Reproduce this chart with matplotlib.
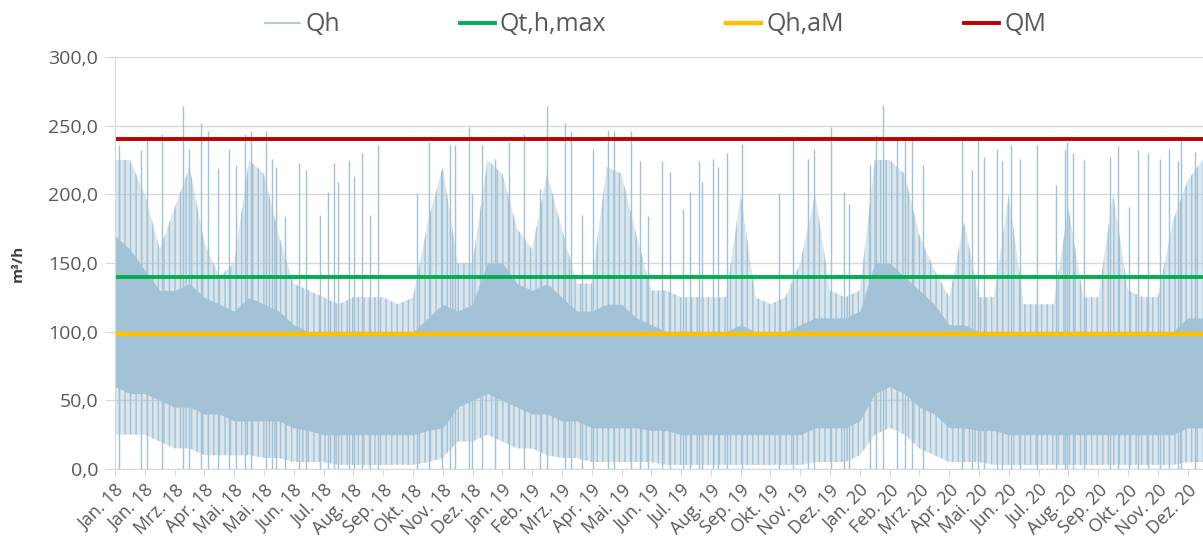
import numpy as np
import matplotlib
matplotlib.use('Agg')
import matplotlib.pyplot as plt
from matplotlib.ticker import FuncFormatter

plt.rcParams['font.family'] = ['Open Sans', 'DejaVu Sans']
plt.rcParams['hatch.linewidth'] = 1.0

# days since 01.01.2018, read every 15 days from the picture
days = [0, 15, 30, 45, 60, 75, 90, 105, 120, 135, 150, 165, 180, 195, 210, 225,
        240, 255, 270, 285, 300, 315, 330, 345, 360, 375, 390, 405, 420, 435, 450,
        465, 480, 495, 510, 525, 540, 555, 570, 585, 600, 615, 630, 645, 660, 675,
        690, 705, 720, 735, 750, 765, 780, 795, 810, 825, 840, 855, 870, 885, 900,
        915, 930, 945, 960, 975, 990, 1005, 1020, 1035, 1050, 1065, 1080, 1095]
# upper edge of the sparse lines (m³/h)
qh_peak = [225, 225, 200, 160, 190, 220, 165, 140, 150, 225, 215, 170, 135, 130, 125, 120,
           125, 125, 125, 120, 125, 180, 220, 150, 150, 225, 215, 175, 160, 215, 175,
           135, 135, 220, 215, 170, 130, 130, 125, 125, 125, 125, 200, 125, 120, 125,
           150, 200, 130, 125, 130, 225, 225, 215, 170, 145, 125, 180, 125, 125, 200,
           120, 120, 120, 190, 125, 125, 200, 130, 125, 125, 180, 210, 225]
# dense part of the series
qh_core_hi = [170, 160, 145, 130, 130, 135, 125, 120, 115, 125, 120, 115, 105, 100, 100, 100,
              100, 100, 100, 98, 100, 110, 120, 115, 120, 150, 150, 135, 130, 135, 125,
              115, 115, 120, 120, 110, 105, 100, 100, 100, 100, 100, 105, 100, 100, 100,
              105, 110, 110, 110, 115, 150, 150, 140, 130, 120, 105, 105, 100, 100, 100,
              100, 100, 100, 100, 100, 100, 100, 100, 100, 100, 100, 110, 110]
qh_core_lo = [60, 55, 55, 50, 45, 45, 40, 40, 35, 35, 35, 35, 30, 28, 25, 25,
              25, 25, 25, 25, 25, 28, 30, 45, 50, 55, 50, 45, 40, 40, 35,
              35, 30, 30, 30, 30, 28, 28, 25, 25, 25, 25, 25, 25, 25, 25,
              25, 30, 30, 30, 35, 55, 60, 55, 45, 40, 30, 30, 28, 28, 25,
              25, 25, 25, 25, 25, 25, 25, 25, 25, 25, 25, 30, 30]
# lower edge of the sparse lines
qh_trough = [25, 25, 25, 20, 15, 15, 10, 10, 10, 10, 8, 8, 5, 5, 5, 3,
             3, 3, 3, 3, 3, 5, 8, 20, 20, 25, 20, 15, 15, 10, 8,
             8, 5, 5, 5, 5, 5, 3, 3, 3, 3, 3, 3, 3, 3, 3,
             3, 5, 5, 5, 10, 25, 30, 25, 15, 10, 5, 5, 5, 3, 3,
             3, 3, 3, 3, 3, 3, 3, 3, 3, 3, 3, 5, 5]

# single tall hourly peaks
spike_day = [4, 26, 32, 47, 68, 75, 87, 94, 104, 115, 122, 131, 137, 152, 158, 162, 171,
             185, 192, 206, 214, 221, 225, 236, 241, 249, 257, 265,
             304, 316, 329, 337, 342, 356, 359, 370, 383, 397, 412, 428, 435, 453, 459,
             470, 481, 496, 502, 520, 529, 537,
             551, 559, 572, 579, 588, 591, 602, 607, 616, 631, 669, 683, 698, 704, 721,
             734, 739, 760, 766, 773, 787, 795, 802, 814,
             853, 863, 869, 875, 888, 893, 902, 911, 928, 947, 957, 959, 965, 976, 1002,
             1010, 1021, 1030, 1040, 1052, 1061, 1070, 1073, 1087]
spike_val = [236, 232, 240, 244, 264, 233, 252, 246, 219, 233, 221, 244, 246, 246, 226, 220, 184,
             223, 218, 185, 202, 223, 209, 225, 213, 230, 185, 236,
             201, 238, 218, 236, 236, 249, 200, 236, 226, 238, 244, 204, 264, 252, 246,
             185, 233, 247, 246, 246, 224, 184,
             224, 216, 189, 202, 224, 209, 226, 220, 230, 237, 201, 240, 226, 233, 249,
             202, 193, 221, 243, 265, 240, 240, 240, 221,
             242, 218, 240, 227, 233, 224, 236, 226, 236, 207, 232, 238, 230, 225, 227,
             235, 191, 232, 230, 226, 233, 224, 241, 231]

q_th_max = 140.0
q_h_am = 98.0
q_m = 240.0

tick_labels = ['Jan. 18', 'Jan. 18', 'Mrz. 18', 'Apr. 18', 'Mai. 18', 'Mai. 18', 'Jun. 18',
               'Jul. 18', 'Aug. 18', 'Sep. 18', 'Okt. 18', 'Nov. 18', 'Dez. 18', 'Jan. 19',
               'Feb. 19', 'Mrz. 19', 'Apr. 19', 'Mai. 19', 'Jun. 19', 'Jul. 19', 'Aug. 19',
               'Sep. 19', 'Okt. 19', 'Nov. 19', 'Dez. 19', 'Jan. 20', 'Feb. 20', 'Mrz. 20',
               'Apr. 20', 'Mai. 20', 'Jun. 20', 'Jul. 20', 'Aug. 20', 'Sep. 20', 'Okt. 20',
               'Nov. 20', 'Dez. 20']

blue = '#a3c2d5'
grey = '#595959'
gridc = '#d9d9d9'

fig = plt.figure(figsize=(12.03, 5.5), dpi=100)
ax = fig.add_axes([115/1203, 1 - 469/550, 1 - 115/1203, (469 - 57)/550])

# sparse part: pale fill with vertical line texture
ax.fill_between(days, qh_trough, qh_peak, facecolor=(0.64, 0.76, 0.835, 0.4),
                edgecolor=blue, hatch='|||', lw=0)
ax.fill_between(days, qh_core_lo, qh_core_hi, color=blue, lw=0)
ax.vlines(spike_day, 0, spike_val, color=blue, lw=1.0)
h_qh, = ax.plot([], [], color=blue, lw=1.2, label='Qh')

h1 = ax.axhline(q_th_max, color='#00b050', lw=2.8, label='Qt,h,max')
h2 = ax.axhline(q_h_am, color='#ffc000', lw=3.2, label='Qh,aM')
h3 = ax.axhline(q_m, color='#c00000', lw=2.8, label='QM')

ax.set_xlim(0, 1095.5)
ax.set_ylim(0, 300)
ax.set_yticks(np.arange(0, 301, 50))
ax.yaxis.set_major_formatter(FuncFormatter(lambda v, p: ('%.1f' % v).replace('.', ',')))
ax.set_xticks(np.arange(len(tick_labels)) * 30)
ax.set_xticklabels(tick_labels, rotation=45, ha='right', rotation_mode='anchor')

ax.grid(axis='y', color=gridc, lw=1.0)
ax.set_axisbelow(True)
for s in ['top', 'right']:
    ax.spines[s].set_visible(False)
ax.spines['left'].set_color(gridc)
ax.spines['bottom'].set_color(gridc)
ax.tick_params(axis='y', colors=gridc, labelcolor=grey, labelsize=14, length=7, pad=5)
ax.tick_params(axis='x', colors=gridc, labelcolor=grey, labelsize=13, length=5, pad=4)

ax.set_ylabel('m³/h', fontsize=11, fontweight='bold', color='#404040')
ax.yaxis.set_label_coords(-0.083, 0.5)

fig.legend(handles=[h_qh, h1, h2, h3], loc='center', bbox_to_anchor=(0.545, 0.955),
           ncol=4, frameon=False, fontsize=18, labelcolor=grey, handlelength=1.4,
           handletextpad=0.2, columnspacing=4.8)

plt.savefig('out.png', dpi=100)
